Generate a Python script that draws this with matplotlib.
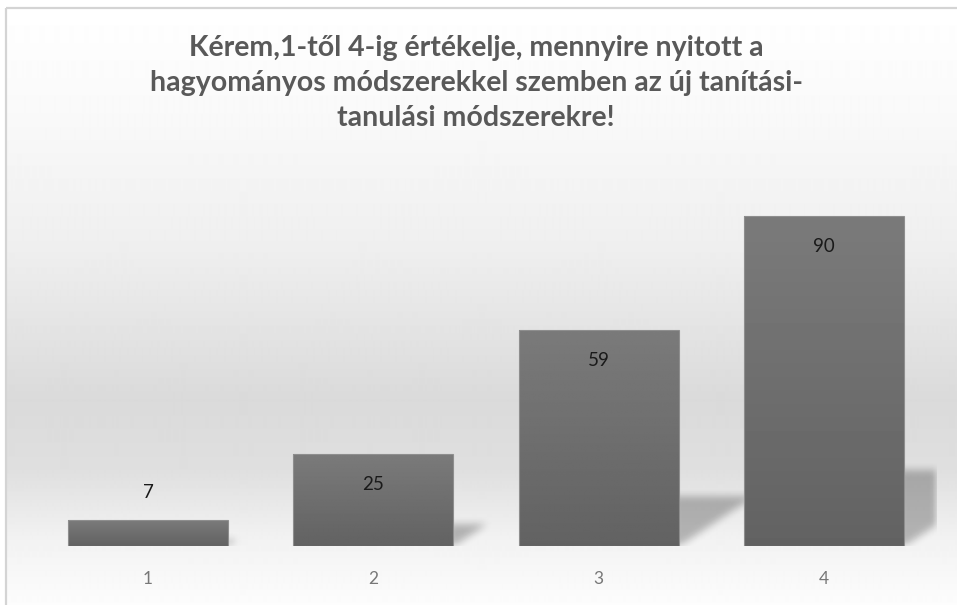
import numpy as np
import matplotlib.pyplot as plt
from matplotlib.patches import Rectangle
from matplotlib.path import Path

# chart data
categories = ['1', '2', '3', '4']
values = [7, 25, 59, 90]
title = ('Kérem,1-től 4-ig értékelje, mennyire nyitott a\n'
         'hagyományos módszerekkel szemben az új tanítási-\n'
         'tanulási módszerekre!')

W, H = 957, 605
fig = plt.figure(figsize=(W / 100, H / 100), dpi=100)
fig.patch.set_facecolor('white')

# background gradient (pixel coords, y from top)
bg = fig.add_axes([0, 0, 1, 1], zorder=-2)
bg.set_xlim(0, W)
bg.set_ylim(H, 0)
bg.axis('off')
ys = np.arange(H)
stops_y = [8, 120, 250, 400, 470, 540, 605]
stops_v = [1.0, 0.975, 0.935, 0.855, 0.875, 0.95, 0.99]
shade = np.interp(ys, stops_y, stops_v)
grad = np.repeat(shade[:, None], 2, axis=1)
bg.imshow(grad, cmap='gray', vmin=0, vmax=1, aspect='auto',
          extent=[6, W + 5, H, 0], origin='upper', interpolation='bilinear')
bg.imshow(np.ones((2, 2)), cmap='gray', vmin=0, vmax=1, aspect='auto',
          extent=[0, W, 8, 0])
bg.imshow(np.ones((2, 2)), cmap='gray', vmin=0, vmax=1, aspect='auto',
          extent=[0, 6, H, 0])
bg.add_patch(Rectangle((6, 8), W + 10, H + 10, fill=False,
                       edgecolor='#d4d4d4', lw=1.6))

# plot area
ax = fig.add_axes([35.5 / W, (H - 546) / H, 901 / W, 366.7 / H])
ax.patch.set_alpha(0)
x = np.arange(1, len(values) + 1)
width = 0.71
xlim = (0.5, 4.5)
ylim = (0, 100)


def box_blur(a, r):
    k = np.ones(2 * r + 1) / (2 * r + 1)
    a = np.apply_along_axis(lambda m: np.convolve(m, k, mode='same'), 0, a)
    a = np.apply_along_axis(lambda m: np.convolve(m, k, mode='same'), 1, a)
    return a


# blurred shadows cast to the right of each bar
gx = np.linspace(xlim[0], xlim[1], 901)
gy = np.linspace(ylim[0], ylim[1], 367)
GX, GY = np.meshgrid(gx, gy)
pts = np.column_stack([GX.ravel(), GY.ravel()])
mask = np.zeros(GX.shape)
for xi, v in zip(x, values):
    xr = xi + width / 2
    top = 0.23 * v
    tri = Path([(xr - 0.02, -1), (xr - 0.02, top), (xr + top / 40, top)])
    mask = np.maximum(mask, tri.contains_points(pts).reshape(GX.shape))
for _ in range(2):
    mask = box_blur(mask, 4)
shadow = np.zeros(GX.shape + (4,))
shadow[..., 3] = mask * 0.26
ax.imshow(shadow, extent=[xlim[0], xlim[1], ylim[0], ylim[1]], origin='lower',
          aspect='auto', zorder=1, interpolation='bilinear')

bars = ax.bar(x, values, width=width, color='none', edgecolor='#8e8e8e',
              lw=0.8, zorder=3)
bar_grad = np.linspace(0.48, 0.385, 100)[:, None]
for b in bars:
    bx = b.get_x()
    im = ax.imshow(bar_grad, cmap='gray', vmin=0, vmax=1, aspect='auto',
                   extent=[bx, bx + b.get_width(), 0, b.get_height()],
                   origin='upper', zorder=2, interpolation='bilinear')
    im.set_clip_path(b)

ax.set_xlim(*xlim)
ax.set_ylim(*ylim)

for xi, v in zip(x, values):
    off = 20 if v < 15 else -22
    ax.annotate(str(v), (xi, v), xytext=(0, off), textcoords='offset points',
                ha='center', va='center', fontsize=13.5, color='#1a1a1a',
                family='Lato', zorder=5)

ax.set_xticks(x, categories)
ax.tick_params(axis='x', length=0, pad=18, labelsize=12.5, labelcolor='#777777')
for lbl in ax.get_xticklabels():
    lbl.set_family('Lato')
ax.set_yticks([])
for s in ax.spines.values():
    s.set_visible(False)

fig.text(476 / W, 1 - 83 / H, title, ha='center', va='center',
         fontsize=20.5, fontweight='bold', color='#595959', family='Lato',
         linespacing=1.42)

fig.savefig('out.png', dpi=100)
